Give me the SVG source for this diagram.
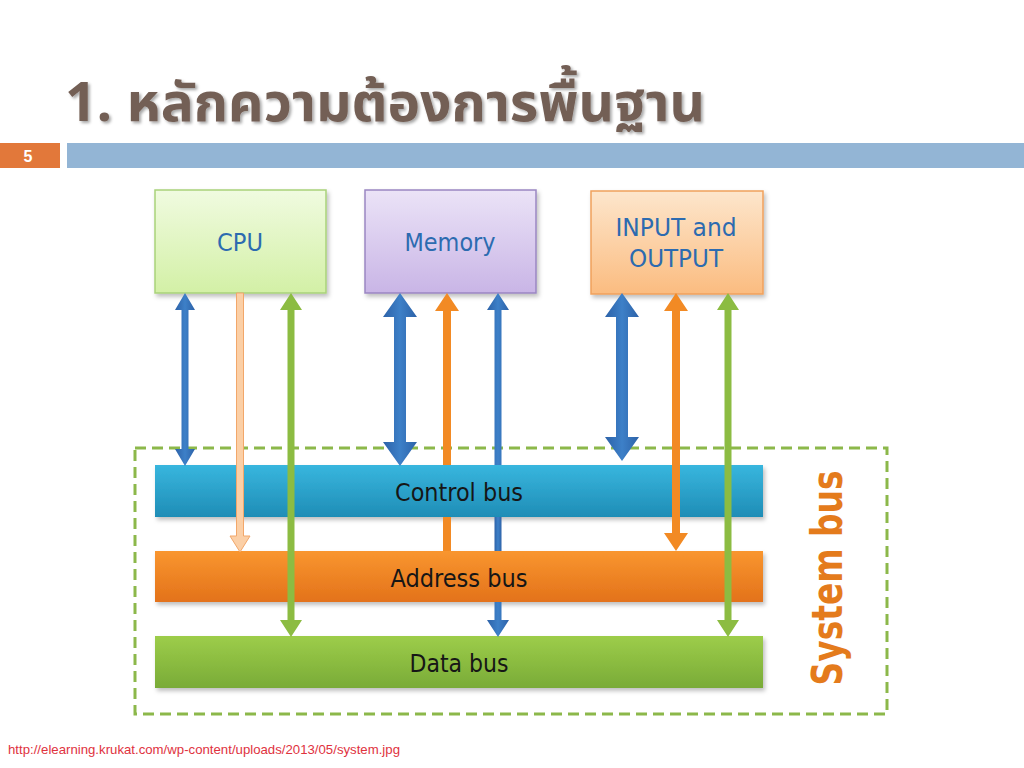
<svg xmlns="http://www.w3.org/2000/svg" width="1024" height="768" viewBox="0 0 1024 768">
<defs>
<style>
.title{font-family:"Noto Sans Thai","Noto Sans","DejaVu Sans",sans-serif;font-weight:bold;fill:#735e54}
.boxt{font-family:"DejaVu Sans Condensed","DejaVu Sans","Liberation Sans",sans-serif;font-size:25px;fill:#2c6bb0;text-anchor:middle}
.bust{font-family:"DejaVu Sans Condensed","DejaVu Sans","Liberation Sans",sans-serif;font-size:25px;fill:#161616;text-anchor:middle}
.blue{fill:url(#gBlue)}
.orange{fill:#f28a24}
.green{fill:#8cbc42}
.peach{fill:#fbcfa6;stroke:#f2a76a;stroke-width:1}
</style>
<linearGradient id="gCpu" x1="0" y1="0" x2="0" y2="1"><stop offset="0" stop-color="#f0fbe0"/><stop offset="1" stop-color="#d3f0a6"/></linearGradient>
<linearGradient id="gMem" x1="0" y1="0" x2="0" y2="1"><stop offset="0" stop-color="#ebe3f7"/><stop offset="1" stop-color="#c9b5e6"/></linearGradient>
<linearGradient id="gIO" x1="0" y1="0" x2="0" y2="1"><stop offset="0" stop-color="#fde6cc"/><stop offset="1" stop-color="#fbbc80"/></linearGradient>
<linearGradient id="gCtl" x1="0" y1="0" x2="0" y2="1"><stop offset="0" stop-color="#38b6de"/><stop offset="1" stop-color="#1f8db6"/></linearGradient>
<linearGradient id="gAdr" x1="0" y1="0" x2="0" y2="1"><stop offset="0" stop-color="#f9962f"/><stop offset="1" stop-color="#e3721a"/></linearGradient>
<linearGradient id="gDat" x1="0" y1="0" x2="0" y2="1"><stop offset="0" stop-color="#9dcd4a"/><stop offset="1" stop-color="#79ab37"/></linearGradient>
<linearGradient id="gBlue" x1="0" y1="0" x2="1" y2="0"><stop offset="0" stop-color="#2d62a8"/><stop offset="0.5" stop-color="#3d80c8"/><stop offset="1" stop-color="#2d62a8"/></linearGradient>
<filter id="sh" x="-10%" y="-10%" width="130%" height="140%"><feDropShadow dx="2" dy="3" stdDeviation="2" flood-color="#000" flood-opacity="0.25"/></filter>
<filter id="tsh" x="-5%" y="-20%" width="110%" height="150%"><feDropShadow dx="2" dy="2" stdDeviation="1.5" flood-color="#000" flood-opacity="0.35"/></filter>
</defs>
<rect width="1024" height="768" fill="#ffffff"/>

<g id="title">
<text class="title" x="65" y="121" font-size="54" textLength="640" lengthAdjust="spacingAndGlyphs" filter="url(#tsh)">1. หลักความต้องการพื้นฐาน</text>
</g>
<g id="header-bar">
<rect x="0" y="143" width="60" height="25" fill="#e2783a"/>
<text x="28" y="162" font-family="Liberation Sans,Arial,sans-serif" font-size="16" font-weight="bold" fill="#ffffff" text-anchor="middle">5</text>
<rect x="67" y="143" width="957" height="25" fill="#93b5d5"/>
</g>

<g id="system-bus-frame">
<rect x="135" y="448" width="752" height="266" fill="none" stroke="#8cb84a" stroke-width="3" stroke-dasharray="11 6"/>
<text transform="translate(842,578) rotate(-90)" font-family="DejaVu Sans,Verdana,sans-serif" font-size="42" font-weight="bold" fill="#e47b1c" text-anchor="middle" textLength="215" lengthAdjust="spacingAndGlyphs">System bus</text>
</g>

<g id="cpu">
<rect x="155" y="190" width="171" height="103" fill="url(#gCpu)" stroke="#a9d27a" stroke-width="1.5" filter="url(#sh)"/>
<text class="boxt" x="240" y="251" textLength="46" lengthAdjust="spacingAndGlyphs">CPU</text>
</g>
<g id="memory">
<rect x="365" y="190" width="171" height="103" fill="url(#gMem)" stroke="#9a86c2" stroke-width="1.5" filter="url(#sh)"/>
<text class="boxt" x="450" y="251" textLength="91" lengthAdjust="spacingAndGlyphs">Memory</text>
</g>
<g id="io">
<rect x="591" y="191" width="172" height="103" fill="url(#gIO)" stroke="#f0a15c" stroke-width="1.5" filter="url(#sh)"/>
<text class="boxt" x="676" y="236" textLength="121" lengthAdjust="spacingAndGlyphs">INPUT and</text>
<text class="boxt" x="676" y="267" textLength="94" lengthAdjust="spacingAndGlyphs">OUTPUT</text>
</g>

<g id="control-bus">
<rect x="155" y="465" width="608" height="52" fill="url(#gCtl)" filter="url(#sh)"/>
<text class="bust" x="459" y="501" textLength="128" lengthAdjust="spacingAndGlyphs">Control bus</text>
</g>
<g id="address-bus">
<rect x="155" y="551" width="608" height="51" fill="url(#gAdr)" filter="url(#sh)"/>
<text class="bust" x="459" y="587" textLength="137" lengthAdjust="spacingAndGlyphs">Address bus</text>
</g>
<g id="data-bus">
<rect x="155" y="636" width="608" height="52" fill="url(#gDat)" filter="url(#sh)"/>
<text class="bust" x="459" y="672" textLength="99" lengthAdjust="spacingAndGlyphs">Data bus</text>
</g>

<g id="connectors">
<!-- CPU -->
<path class="blue" d="M185,293 L195,310 L188.5,310 L188.5,449 L195,449 L185,466 L175,449 L181.5,449 L181.5,310 L175,310 Z"/>
<path class="peach" d="M236.5,293 L243.5,293 L243.5,536 L250,536 L240,552 L230,536 L236.5,536 Z"/>
<path class="green" d="M291,293 L302,310 L294.5,310 L294.5,620 L302,620 L291,637 L280,620 L287.5,620 L287.5,310 L280,310 Z"/>
<!-- Memory -->
<path class="blue" d="M400,293 L417,317 L406,317 L406,442 L417,442 L400,466 L383,442 L394,442 L394,317 L383,317 Z"/>
<path class="orange" d="M447,293 L459,311 L451,311 L451,465 L443,465 L443,311 L435,311 Z"/>
<rect class="orange" x="443" y="517" width="8" height="34"/>
<path class="blue" d="M498,293 L509,310 L501.5,310 L501.5,465 L494.5,465 L494.5,310 L487,310 Z"/>
<rect class="blue" x="494.5" y="517" width="7" height="34"/>
<path class="blue" d="M494.5,602 L501.5,602 L501.5,620 L509,620 L498,637 L487,620 L494.5,620 Z"/>
<!-- I/O -->
<path class="blue" d="M622,293 L639,317 L628,317 L628,437 L639,437 L622,461 L605,437 L616,437 L616,317 L605,317 Z"/>
<path class="orange" d="M676,293 L688,311 L680,311 L680,533 L688,533 L676,551 L664,533 L672,533 L672,311 L664,311 Z"/>
<path class="green" d="M728,293 L739,310 L731.5,310 L731.5,620 L739,620 L728,637 L717,620 L724.5,620 L724.5,310 L717,310 Z"/>
</g>

<g id="footer">
<text x="8" y="754" font-family="Liberation Sans,Arial,sans-serif" font-size="13" fill="#e0323e" textLength="392" lengthAdjust="spacingAndGlyphs">http://elearning.krukat.com/wp-content/uploads/2013/05/system.jpg</text>
</g>
</svg>
